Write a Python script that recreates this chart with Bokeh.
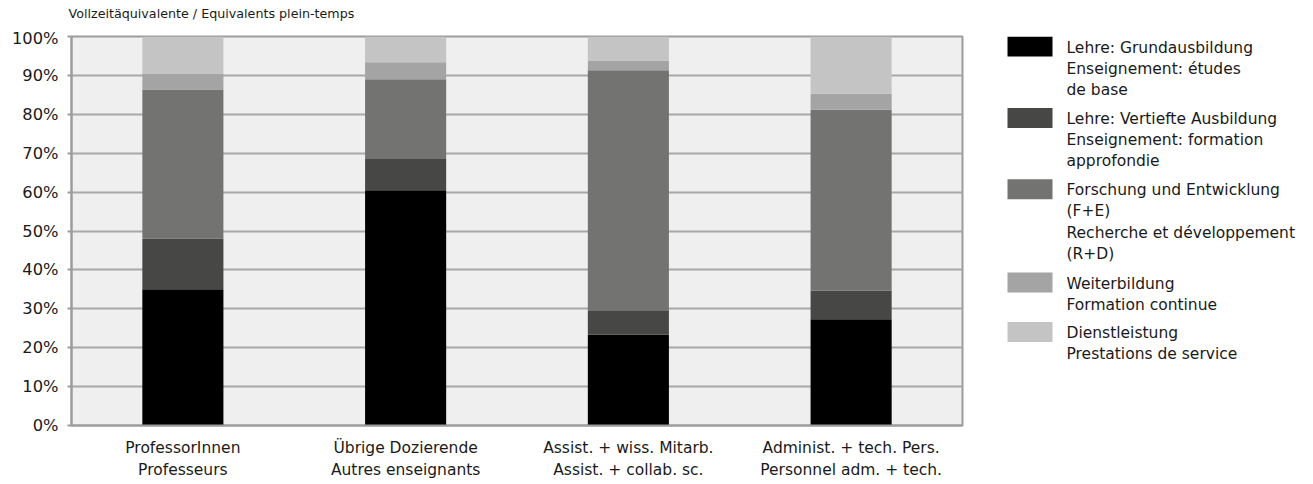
from bokeh.plotting import figure
from bokeh.layouts import column, row
from bokeh.models import (ColumnDataSource, FactorRange, Range1d, FixedTicker,
                          PrintfTickFormatter)
from bokeh.core.properties import value
from bokeh.embed import file_html
from bokeh.resources import INLINE

categories = [
    "ProfessorInnen\nProfesseurs",
    "Übrige Dozierende\nAutres enseignants",
    "Assist. + wiss. Mitarb.\nAssist. + collab. sc.",
    "Administ. + tech. Pers.\nPersonnel adm. + tech.",
]
series_keys = ["grund", "vertieft", "fe", "weiter", "dienst"]
series_labels = [
    "Lehre: Grundausbildung\nEnseignement: études\nde base",
    "Lehre: Vertiefte Ausbildung\nEnseignement: formation\napprofondie",
    "Forschung und Entwicklung\n(F+E)\nRecherche et développement\n(R+D)",
    "Weiterbildung\nFormation continue",
    "Dienstleistung\nPrestations de service",
]
grund = [35.0, 60.5, 23.3, 27.3]
vertieft = [13.1, 8.0, 6.3, 7.4]
fe = [38.3, 20.5, 61.7, 46.5]
weiter = [4.1, 4.4, 2.5, 4.1]
dienst = [9.5, 6.6, 6.2, 14.7]
colors = ["#000000", "#474745", "#737371", "#a3a4a3", "#c3c4c3"]
y_ticks = [0, 10, 20, 30, 40, 50, 60, 70, 80, 90, 100]
title_text = "Vollzeitäquivalente / Equivalents plein-temps"

FONT = "DejaVu Sans"
TXT = "#1a1a1a"
GRAY = "#9c9c9c"

W, H = 1313, 484
TITLE_H = 28
MAIN_W = 980
BODY_H = H - TITLE_H
FRAME_TOP, FRAME_BOTTOM = 36, 425


def blank(fig):
    fig.axis.visible = False
    fig.grid.visible = False
    fig.outline_line_color = None
    fig.background_fill_color = None
    fig.border_fill_color = None
    return fig


# ---- title strip ----
tf = figure(width=W, height=TITLE_H, x_range=Range1d(0, W), y_range=Range1d(TITLE_H, 0),
            output_backend="svg", toolbar_location=None, min_border=0,
            min_border_left=0, min_border_right=0, min_border_top=0, min_border_bottom=0)
blank(tf)
tf.text(x=[68], y=[13], text=[title_text], text_font=value(FONT),
        text_font_size=value("12.7px"), text_color=TXT, text_baseline="middle",
        text_align="left")

# ---- main chart ----
source = ColumnDataSource(dict(cat=categories, grund=grund, vertieft=vertieft,
                               fe=fe, weiter=weiter, dienst=dienst))

p = figure(width=MAIN_W, height=BODY_H, x_range=FactorRange(*categories),
           y_range=Range1d(0, 100), output_backend="svg", toolbar_location=None,
           min_border_left=71, min_border_right=MAIN_W - 962,
           min_border_top=FRAME_TOP - TITLE_H, min_border_bottom=H - FRAME_BOTTOM)

renderers = p.vbar_stack(series_keys, x="cat", width=0.364, color=colors,
                         line_color=None, source=source)

p.background_fill_color = "#efefef"
p.border_fill_color = "white"
p.outline_line_color = GRAY
p.outline_line_width = 2

p.xgrid.grid_line_color = None
p.ygrid.grid_line_color = "#a8a8a8"
p.ygrid.grid_line_width = 2
p.ygrid.level = "underlay"

p.yaxis.ticker = FixedTicker(ticks=y_ticks)
p.yaxis.formatter = PrintfTickFormatter(format="%d%%")
p.yaxis.axis_line_color = GRAY
p.yaxis.axis_line_width = 2
p.yaxis.major_tick_line_color = GRAY
p.yaxis.major_tick_line_width = 2
p.yaxis.major_tick_out = 4
p.yaxis.major_tick_in = 0
p.yaxis.minor_tick_line_color = None
p.yaxis.major_label_text_font = FONT
p.yaxis.major_label_text_font_size = "16.3px"
p.yaxis.major_label_text_color = TXT
p.yaxis.major_label_standoff = 9

p.xaxis.axis_line_color = GRAY
p.xaxis.axis_line_width = 2
p.xaxis.major_tick_line_color = None
p.xaxis.minor_tick_line_color = None
p.xaxis.major_label_text_font = FONT
p.xaxis.major_label_text_font_size = "15.5px"
p.xaxis.major_label_text_color = TXT
p.xaxis.major_label_text_line_height = 1.25
p.xaxis.major_label_standoff = 7

# ---- legend panel (its frame is aligned with the chart frame by the row) ----
LEG_W = W - MAIN_W
lf = figure(width=LEG_W, height=BODY_H, x_range=Range1d(MAIN_W, W),
            y_range=Range1d(FRAME_BOTTOM, FRAME_TOP), output_backend="svg",
            toolbar_location=None, min_border=0, min_border_left=0, min_border_right=0,
            min_border_top=FRAME_TOP - TITLE_H, min_border_bottom=H - FRAME_BOTTOM)
blank(lf)

PITCH = 21.8
GAP = 6
SW_W, SW_H = 45, 20
SW_X = 1007
TXT_X = 1066
tops = []
t = 36
for lab in series_labels:
    tops.append(t)
    t += (lab.count("\n") + 1) * PITCH + GAP

leg = ColumnDataSource(dict(
    x=[SW_X + SW_W / 2] * len(tops),
    y=[tp + SW_H / 2 for tp in tops],
    ty=[tp + 2 for tp in tops],
    tx=[TXT_X] * len(tops),
    label=series_labels,
    color=colors,
))
lf.rect(x="x", y="y", width=SW_W, height=SW_H, fill_color="color", line_color=None,
        source=leg)
lf.text(x="tx", y="ty", text="label", source=leg, text_font=value(FONT),
        text_font_size=value("15.5px"), text_color=TXT, text_baseline="top",
        text_align="left", text_line_height=1.174)

layout = column(tf, row(p, lf, spacing=0), spacing=0)
open("out.html", "w").write(file_html(layout, INLINE))
